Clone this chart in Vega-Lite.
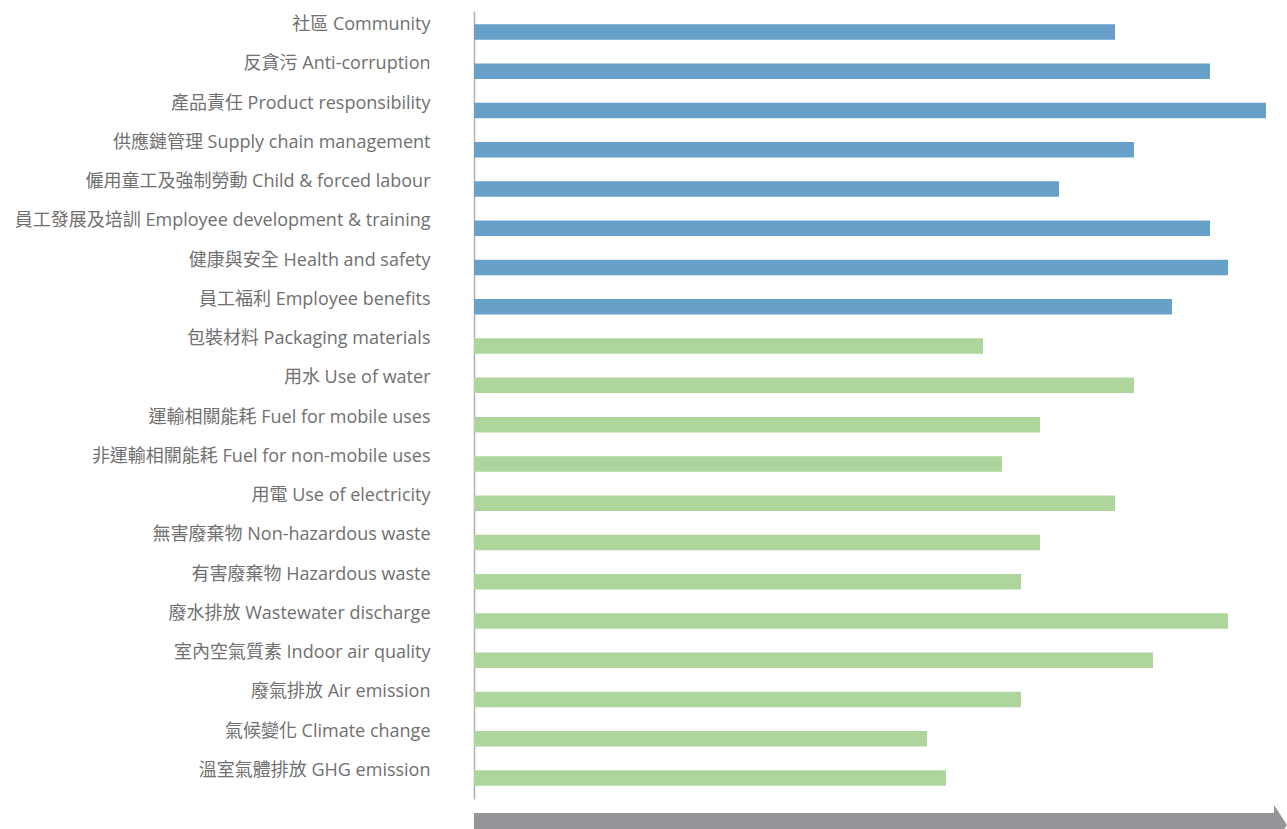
{
  "$schema": "https://vega.github.io/schema/vega-lite/v6.json",
  "width": 813,
  "height": 788,
  "autosize": {"type": "none"},
  "padding": {"left": 474, "top": 11, "right": 0, "bottom": 30},
  "background": "white",
  "config": {"view": {"stroke": null}},
  "layer": [
    {
      "data": {
        "values": [
          {"topic": "社區 Community", "group": "social", "score": 641},
          {"topic": "反貪污 Anti-corruption", "group": "social", "score": 736},
          {"topic": "產品責任 Product responsibility", "group": "social", "score": 792},
          {"topic": "供應鏈管理 Supply chain management", "group": "social", "score": 660},
          {"topic": "僱用童工及強制勞動 Child & forced labour", "group": "social", "score": 585},
          {"topic": "員工發展及培訓 Employee development & training", "group": "social", "score": 736},
          {"topic": "健康與安全 Health and safety", "group": "social", "score": 754},
          {"topic": "員工福利 Employee benefits", "group": "social", "score": 698},
          {"topic": "包裝材料 Packaging materials", "group": "environmental", "score": 509},
          {"topic": "用水 Use of water", "group": "environmental", "score": 660},
          {"topic": "運輸相關能耗 Fuel for mobile uses", "group": "environmental", "score": 566},
          {"topic": "非運輸相關能耗 Fuel for non-mobile uses", "group": "environmental", "score": 528},
          {"topic": "用電 Use of electricity", "group": "environmental", "score": 641},
          {"topic": "無害廢棄物 Non-hazardous waste", "group": "environmental", "score": 566},
          {"topic": "有害廢棄物 Hazardous waste", "group": "environmental", "score": 547},
          {"topic": "廢水排放 Wastewater discharge", "group": "environmental", "score": 754},
          {"topic": "室內空氣質素 Indoor air quality", "group": "environmental", "score": 679},
          {"topic": "廢氣排放 Air emission", "group": "environmental", "score": 547},
          {"topic": "氣候變化 Climate change", "group": "environmental", "score": 453},
          {"topic": "溫室氣體排放 GHG emission", "group": "environmental", "score": 472}
        ]
      },
      "mark": {"type": "bar"},
      "encoding": {
        "y": {
          "field": "topic",
          "type": "nominal",
          "sort": null,
          "scale": {"paddingInner": 0.605, "paddingOuter": 0.338},
          "axis": {
            "title": null,
            "ticks": false,
            "grid": false,
            "domainColor": "#b0b0b0",
            "domainWidth": 1.5,
            "labelFont": "Open Sans, Noto Sans CJK TC",
            "labelFontSize": 18,
            "labelColor": "#707070",
            "labelPadding": 44,
            "labelLimit": 600,
            "labelOffset": -7
          }
        },
        "x": {
          "field": "score",
          "type": "quantitative",
          "scale": {"domain": [0, 813], "nice": false, "zero": true},
          "axis": null
        },
        "color": {
          "field": "group",
          "type": "nominal",
          "scale": {"domain": ["social", "environmental"], "range": ["#67a0c8", "#aed69c"]},
          "legend": null
        }
      }
    },
    {
      "data": {"values": [{"start": 0, "end": 800, "level": -0.033}]},
      "mark": {"type": "rule", "color": "#939598", "strokeWidth": 24},
      "encoding": {
        "x": {"field": "start", "type": "quantitative"},
        "x2": {"field": "end"},
        "y": {"field": "level", "type": "quantitative", "scale": {"domain": [0, 1], "nice": false, "zero": false}, "axis": null}
      }
    },
    {
      "data": {"values": [{"start": 0, "end": 800, "level": -0.033}]},
      "mark": {"type": "point", "shape": "M 0 -1 L 0.65 0 L 0 1 Z", "size": 1600, "filled": true, "opacity": 1, "color": "#939598"},
      "encoding": {
        "x": {"field": "end", "type": "quantitative"},
        "y": {"field": "level", "type": "quantitative", "scale": {"domain": [0, 1], "nice": false, "zero": false}, "axis": null}
      }
    }
  ],
  "resolve": {"scale": {"y": "independent"}}
}
